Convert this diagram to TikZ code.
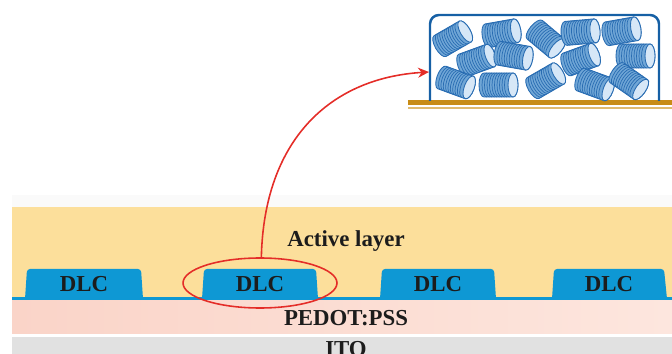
\documentclass[tikz,border=0pt]{standalone}
\usepackage{fontspec}
\setmainfont{Liberation Serif}
\usetikzlibrary{shapes.geometric,arrows.meta}

\definecolor{activecol}{RGB}{252,223,155}
\definecolor{dlccol}{RGB}{14,152,212}
\definecolor{pedotcol}{RGB}{250,212,200}
\definecolor{pedotlight}{RGB}{253,230,222}
\definecolor{itocol}{RGB}{225,225,225}
\definecolor{ringred}{RGB}{228,45,40}
\definecolor{wallblue}{RGB}{22,96,165}
\definecolor{coilfill}{RGB}{112,166,214}
\definecolor{coilline}{RGB}{40,108,178}
\definecolor{coilcap}{RGB}{214,231,247}
\definecolor{basebrown}{RGB}{200,140,22}
\definecolor{baselight}{RGB}{224,186,110}
\definecolor{labelcol}{RGB}{28,28,28}

\tikzset{
  layertext/.style={text=labelcol,font=\fontsize{13}{15}\selectfont\bfseries,inner sep=0pt},
  dlcblock/.style={fill=dlccol,rounded corners=3*0.02cm},
  coilbody/.style={fill=coilfill,draw=coilline,line width=0.5pt},
  coilring/.style={draw=coilline,line width=0.4pt},
  coilend/.style={fill=coilcap,draw=coilline,line width=0.5pt}
}

% one tilted coil: x, y, angle
\newcommand{\drawcoil}[3]{%
  \begin{scope}[shift={(#1,#2)},rotate=#3]
    \draw[coilbody] (13,-12) -- (-16,-12)
      arc[start angle=-90,end angle=-270,x radius=5,y radius=12]
      -- (13,12) arc[start angle=90,end angle=-90,x radius=5,y radius=12] -- cycle;
    \foreach \r in {-13,-10.5,...,10.5}
      \draw[coilring] (\r,-12) arc[start angle=-90,end angle=-270,x radius=5,y radius=12];
    \draw[coilend] (13,0) ellipse[x radius=5,y radius=12];
  \end{scope}}

\begin{document}
\begin{tikzpicture}[x=0.02cm,y=-0.02cm]

                    \useasboundingbox (0,0) rectangle (672,354);
                    \clip (0,0) rectangle (672,354);

                    % device stack
                    \fill[black!2] (12,195) rectangle (672,207);
                    \fill[activecol] (12,207) rectangle (672,298);
                    \shade[left color=pedotcol,right color=pedotlight] (12,300) rectangle (672,333);
                    \fill[itocol] (12,337) rectangle (672,354);

                    \fill[dlcblock] (25,299) -- (27,269) -- (141,269) -- (143,299);
                    \fill[dlcblock] (202,299) -- (204,269) -- (316,269) -- (318,299);
                    \fill[dlcblock] (380,299) -- (382,269) -- (494,269) -- (496,299);
                    \fill[dlcblock] (552,299) -- (554,269) -- (664,269) -- (667,299);
                    \fill[dlccol] (12,297) rectangle (672,300);

                    \node[layertext] (dlc1) at (84,284) {DLC};
                    \node[layertext] (dlc2) at (260,284) {DLC};
                    \node[layertext] (dlc3) at (438,284) {DLC};
                    \node[layertext] (dlc4) at (609,284) {DLC};

                    \node[layertext] (active) at (346,241) {Active layer};
                    \node[layertext] (pedot) at (346,318) {PEDOT:PSS};
                    \node[layertext,anchor=north] (ito) at (346,341) {ITO};

                    % zoomed film on its substrate
                    \fill[basebrown] (408,100) rectangle (672,105);
                    \fill[baselight] (408,107) rectangle (672,109);
                    \draw[wallblue,line width=1.4pt,rounded corners=0.18cm] (430,101) -- (430,15) -- (659,15) -- (659,101);
                    \coordinate (wallhit) at (429,72);

                    \drawcoil{454}{38}{30}
                    \drawcoil{503}{33}{10}
                    \drawcoil{547}{40}{-40}
                    \drawcoil{582}{32}{5}
                    \drawcoil{623}{31}{10}
                    \drawcoil{478}{60}{20}
                    \drawcoil{515}{56}{-10}
                    \drawcoil{582}{59}{20}
                    \drawcoil{637}{56}{0}
                    \drawcoil{457}{83}{-20}
                    \drawcoil{500}{85}{0}
                    \drawcoil{547}{80}{30}
                    \drawcoil{596}{85}{-20}
                    \drawcoil{630}{82}{-35}

                    % marked block and pointer
                    \node[ellipse,draw=ringred,line width=0.9pt,minimum width=3.08cm,minimum height=1cm,inner sep=0pt] (ring) at (260,283) {};
                    \draw[ringred,line width=0.9pt,-{Stealth[length=2.2mm,width=2mm]}] (ring.87) .. controls (264,140) and (330,78) .. (wallhit);

\end{tikzpicture}
\end{document}
